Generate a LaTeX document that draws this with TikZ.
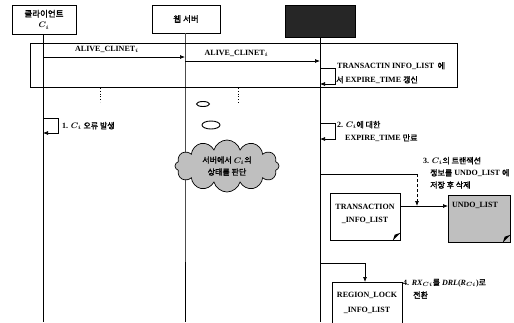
\documentclass[tikz,border=0pt]{standalone}
\usepackage{fontspec}
\setmainfont{Liberation Serif}
\newfontfamily\kr{Noto Sans CJK KR}[AutoFakeBold=1.6]
\usetikzlibrary{arrows.meta,shapes.symbols,shapes.geometric}
\begin{document}
\begin{tikzpicture}[x=1pt,y=-1pt,
  lbl/.style={font=\fontsize{8}{9}\selectfont\bfseries\boldmath, inner sep=0pt},
  head/.style={draw, line width=0.7pt, font=\fontsize{8.5}{11}\selectfont\bfseries\boldmath, align=center, inner sep=1pt},
  life/.style={line width=0.7pt},
  arr/.style={-{Latex[length=5pt,width=4pt]}, line width=0.7pt},
  docbox/.style={draw, line width=0.7pt, fill=white, inner sep=0pt, anchor=north west},
  dots/.style={dotted, line width=0.8pt},
  fold/.style={fill=black}
]
\useasboundingbox (0,0) rectangle (514,322);

% heads
\node[head, minimum width=64, minimum height=29] (client) at (44,19.5) {{\kr 클라이언트}\\$C_i$};
\node[head, minimum width=68, minimum height=28] (web) at (186,19) {{\kr 웹 서버}};
\node[head, minimum width=70, minimum height=32, fill=black!85] (db) at (320,21) {};

% lifeline ends
\coordinate (cend) at (43,322);
\coordinate (wend) at (185,322);
\coordinate (dend) at (320,322);
\draw[life] (client.south -| cend) -- (cend);
\draw[life, black!70] (web.south -| wend) -- (185,262);
\draw[life] (185,262) -- (wend);
\draw[life] (db.south -| dend) -- (dend);

% frame
\node[draw, line width=0.7pt, minimum width=427, minimum height=44, anchor=north west, inner sep=0pt] (frame) at (30,43) {};

% ALIVE messages
\coordinate (c1) at (43,57);
\coordinate (w1) at (185,57);
\coordinate (w2) at (185,61);
\coordinate (d2) at (320,61);
\draw[arr] (c1) -- node[lbl, above=4pt, xshift=-7pt] (m1) {ALIVE\_CLINET$_i$} (w1);
\draw[arr] (w2) -- node[lbl, above=4pt, xshift=-16pt] (m2) {ALIVE\_CLINET$_i$} (d2);

% loop 0
\coordinate (l0a) at (320,68);
\coordinate (l0b) at (320,84);
\draw[arr] (l0a) -- ++(15,0) |- (l0b);
\node[lbl, anchor=west] (t0a) at (337,66) {TRANSACTIN INFO\_LIST \,{\kr 에}};
\node[lbl, anchor=west] (t0b) at (336,80) {{\kr 서} EXPIRE\_TIME {\kr 갱신}};

% dotted ticks
\coordinate (dt1a) at (100,88); \coordinate (dt1b) at (100,102);
\coordinate (dt2a) at (238,88); \coordinate (dt2b) at (238,104);
\draw[dots] (dt1a) -- (dt1b);
\draw[dots] (dt2a) -- (dt2b);

% thought bubbles
\node[ellipse, draw, line width=0.9pt, minimum width=13, minimum height=5, inner sep=0pt] (e1) at (203,104) {};
\node[ellipse, draw, line width=0.9pt, minimum width=18, minimum height=8, inner sep=0pt] (e2) at (211,125) {};
\node[cloud, cloud puffs=12, aspect=2.2, draw, line width=0.7pt, fill=gray!50, minimum width=104, minimum height=52, inner sep=0pt, align=center, lbl] (cloud) at (227,166) {{\kr 서버에서} $C_i${\kr 의}\\[3pt]{\kr 상태를 판단}};

% loop 1
\coordinate (l1a) at (43,118);
\coordinate (l1b) at (43,133);
\draw[arr] (l1a) -- ++(15,0) |- (l1b);
\node[lbl, anchor=west] (t1) at (62,126) {1. $C_i$ {\kr 오류 발생}};

% loop 2
\coordinate (l2a) at (320,123);
\coordinate (l2b) at (320,139);
\draw[arr] (l2a) -- ++(15,0) |- (l2b);
\node[lbl, anchor=west] (t2a) at (337,125) {2. $C_i${\kr 에 대한}};
\node[lbl, anchor=west] (t2b) at (345,138) {EXPIRE\_TIME {\kr 만료}};

% step 3
\node[docbox, minimum width=70, minimum height=47] (trans) at (330,193) {};
\node[lbl, align=center] (transt) at (365,213.5) {TRANSACTION\\[4pt]\_INFO\_LIST};
\fill[fold] ([xshift=-8pt]trans.south east) -- ([yshift=8pt]trans.south east) -- ([xshift=-6pt,yshift=6pt]trans.south east) -- cycle;

\node[docbox, fill=gray!50, minimum width=62, minimum height=47] (undo) at (448,195) {};
\node[lbl] (undot) at (475,205) {UNDO\_LIST};
\fill[fold] ([xshift=-8pt]undo.south east) -- ([yshift=8pt]undo.south east) -- ([xshift=-6pt,yshift=6pt]undo.south east) -- cycle;

\coordinate (s3a) at (320,174);
\coordinate (s3b) at (417,174);
\coordinate (s3c) at (417,206);
\draw[line width=0.7pt] (s3a) -- (s3b);
\draw[arr, densely dashed] (s3b) -- (s3c);
\draw[arr] (trans.east |- s3c) -- (undo.west |- s3c);
\node[lbl, anchor=west] (t3a) at (423,161) {3. $C_i${\kr 의 트랜잭션}};
\node[lbl, anchor=west] (t3b) at (430,173) {{\kr 정보를} UNDO\_LIST {\kr 에}};
\node[lbl, anchor=west] (t3c) at (430,185) {{\kr 저장 후 삭제}};

% step 4
\node[docbox, minimum width=70, minimum height=48] (region) at (332,282) {};
\node[lbl, align=center] (regiont) at (367,302.5) {REGION\_LOCK\\[6pt]\_INFO\_LIST};
\coordinate (s4a) at (320,263);
\coordinate (s4b) at (365,263);
\draw[arr] (s4a) -- (s4b) -- (s4b |- region.north);
\node[lbl, anchor=west] (t4a) at (403,283) {4. \textit{RX}$_{Ci}${\kr 를} \textit{DRL}(\textit{R}$_{Ci}$){\kr 로}};
\node[lbl, anchor=west] (t4b) at (413,295) {{\kr 전환}};
\end{tikzpicture}
\end{document}
